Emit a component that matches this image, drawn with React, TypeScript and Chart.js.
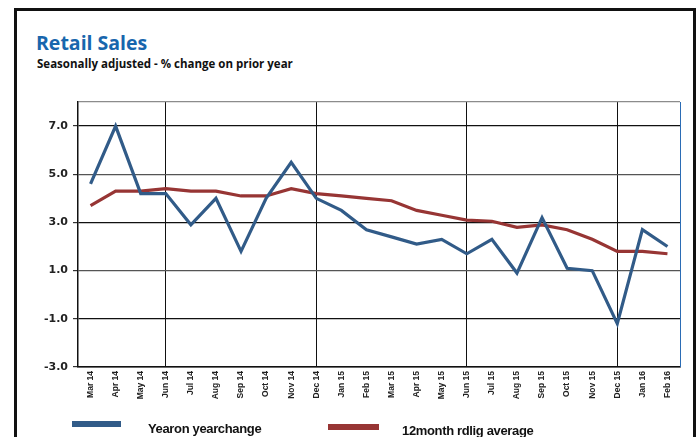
import React, { useEffect, useRef } from "react";
import { Chart, registerables } from "chart.js";

Chart.register(...registerables);

const months = [
  "Mar 14", "Apr 14", "May 14", "Jun 14", "Jul 14", "Aug 14", "Sep 14", "Oct 14",
  "Nov 14", "Dec 14", "Jan 15", "Feb 15", "Mar 15", "Apr 15", "May 15", "Jun 15",
  "Jul 15", "Aug 15", "Sep 15", "Oct 15", "Nov 15", "Dec 15", "Jan 16", "Feb 16",
];

const yearOnYear = [
  4.6, 7.0, 4.2, 4.2, 2.9, 4.0, 1.8, 4.0, 5.5, 4.0, 3.5, 2.7,
  2.4, 2.1, 2.3, 1.7, 2.3, 0.9, 3.2, 1.1, 1.0, -1.2, 2.7, 2.0,
];

const rollingAverage = [
  3.7, 4.3, 4.3, 4.4, 4.3, 4.3, 4.1, 4.1, 4.4, 4.2, 4.1, 4.0,
  3.9, 3.5, 3.3, 3.1, 3.05, 2.8, 2.9, 2.7, 2.3, 1.8, 1.8, 1.7,
];

const yTicks = [-3, -1, 1, 3, 5, 7];
const yMin = -3;
const yMax = 8;
const halfYearMarks = ["Jun 14", "Dec 14", "Jun 15", "Dec 15"];

const seriesLabels = ["Yearon yearchange", "12month rdlig average"];
const seriesColors = ["#315b88", "#973534"];

const rightEdge = {
  id: "rightEdge",
  afterDraw(chart: any) {
    const { ctx, chartArea } = chart;
    ctx.save();
    ctx.strokeStyle = "#2b6cb5";
    ctx.lineWidth = 1;
    ctx.beginPath();
    ctx.moveTo(chartArea.right + 0.5, chartArea.top);
    ctx.lineTo(chartArea.right + 0.5, chartArea.bottom);
    ctx.stroke();
    ctx.restore();
  },
};

export default function App() {
  const canvasRef = useRef<HTMLCanvasElement | null>(null);

  useEffect(() => {
    if (!canvasRef.current) return;
    const chart = new Chart(canvasRef.current, {
      type: "line",
      data: {
        labels: months,
        datasets: [
          {
            label: seriesLabels[0],
            data: yearOnYear,
            borderColor: seriesColors[0],
            backgroundColor: seriesColors[0],
            borderWidth: 3.2,
            pointRadius: 0,
            tension: 0,
          },
          {
            label: seriesLabels[1],
            data: rollingAverage,
            borderColor: seriesColors[1],
            backgroundColor: seriesColors[1],
            borderWidth: 3.2,
            pointRadius: 0,
            tension: 0,
          },
        ],
      },
      options: {
        responsive: false,
        animation: false,
        layout: { padding: { left: 0, top: 102, right: 20, bottom: 0 } },
        plugins: {
          legend: { display: false },
          title: { display: false },
          tooltip: { enabled: false },
        },
        scales: {
          x: {
            offset: true,
            afterFit: (s: any) => {
              s.height = 70;
            },
            grid: {
              offset: false,
              drawTicks: false,
              lineWidth: 1,
              color: (c: any) =>
                halfYearMarks.includes(months[c.index]) ? "#111" : "rgba(0,0,0,0)",
            },
            border: { color: "#111", width: 1.5 },
            ticks: {
              autoSkip: false,
              maxRotation: 90,
              minRotation: 90,
              padding: 4,
              color: "#222",
              font: { family: "'Liberation Sans', Arial, sans-serif", size: 8.5, weight: "bold" },
            },
          },
          y: {
            min: yMin,
            max: yMax,
            afterFit: (s: any) => {
              s.width = 78;
            },
            afterBuildTicks: (s: any) => {
              s.ticks = [...yTicks, yMax].map((v) => ({ value: v }));
            },
            grid: {
              lineWidth: 1.2,
              tickLength: 5,
              color: (c: any) => {
                const v = c.tick && c.tick.value;
                if (v === yMax) return "#8c8c8c";
                if (v === 5 || v === 1) return "#555";
                return "#111";
              },
              tickColor: (c: any) =>
                c.tick && c.tick.value === yMax ? "rgba(0,0,0,0)" : "#333",
            },
            border: { color: "#111", width: 1.5 },
            ticks: {
              padding: 5,
              color: "#222",
              font: { family: "'DejaVu Sans', sans-serif", size: 11, weight: "bold" },
              callback: (v: any) => (v === yMax ? "" : Number(v).toFixed(1)),
            },
          },
        },
      },
      plugins: [rightEdge],
    });
    return () => chart.destroy();
  }, []);

  const legendText: React.CSSProperties = {
    position: "absolute",
    fontFamily: "'Liberation Sans', Arial, sans-serif",
    fontWeight: "bold",
    fontSize: 13,
    lineHeight: "13px",
    letterSpacing: "-0.35px",
    color: "#111",
    whiteSpace: "nowrap",
  };

  return (
    <div
      style={{
        position: "absolute",
        left: 0,
        top: 0,
        width: 700,
        height: 437,
        overflow: "hidden",
        background: "#fff",
      }}
    >
      <div
        style={{
          position: "absolute",
          left: 14,
          top: 8,
          width: 676,
          height: 460,
          border: "3px solid #111",
        }}
      />
      <div
        style={{
          position: "absolute",
          left: 36,
          top: 30,
          fontFamily: "'Open Sans', sans-serif",
          fontWeight: "bold",
          fontSize: 19.5,
          lineHeight: "26px",
          color: "#1866ad",
          whiteSpace: "nowrap",
        }}
      >
        Retail Sales
      </div>
      <div
        style={{
          position: "absolute",
          left: 37,
          top: 56,
          fontFamily: "'Open Sans', sans-serif",
          fontWeight: "bold",
          fontSize: 11.5,
          lineHeight: "15px",
          color: "#111",
          whiteSpace: "nowrap",
        }}
      >
        Seasonally adjusted - % change on prior year
      </div>
      <canvas
        ref={canvasRef}
        width={700}
        height={437}
        style={{ position: "absolute", left: 0, top: 0 }}
      />
      <div
        style={{
          position: "absolute",
          left: 72,
          top: 421,
          width: 49,
          height: 6,
          background: seriesColors[0],
        }}
      />
      <div style={{ ...legendText, left: 148, top: 422 }}>{seriesLabels[0]}</div>
      <div
        style={{
          position: "absolute",
          left: 328,
          top: 424,
          width: 51,
          height: 6,
          background: seriesColors[1],
        }}
      />
      <div style={{ ...legendText, left: 402, top: 424 }}>{seriesLabels[1]}</div>
    </div>
  );
}
